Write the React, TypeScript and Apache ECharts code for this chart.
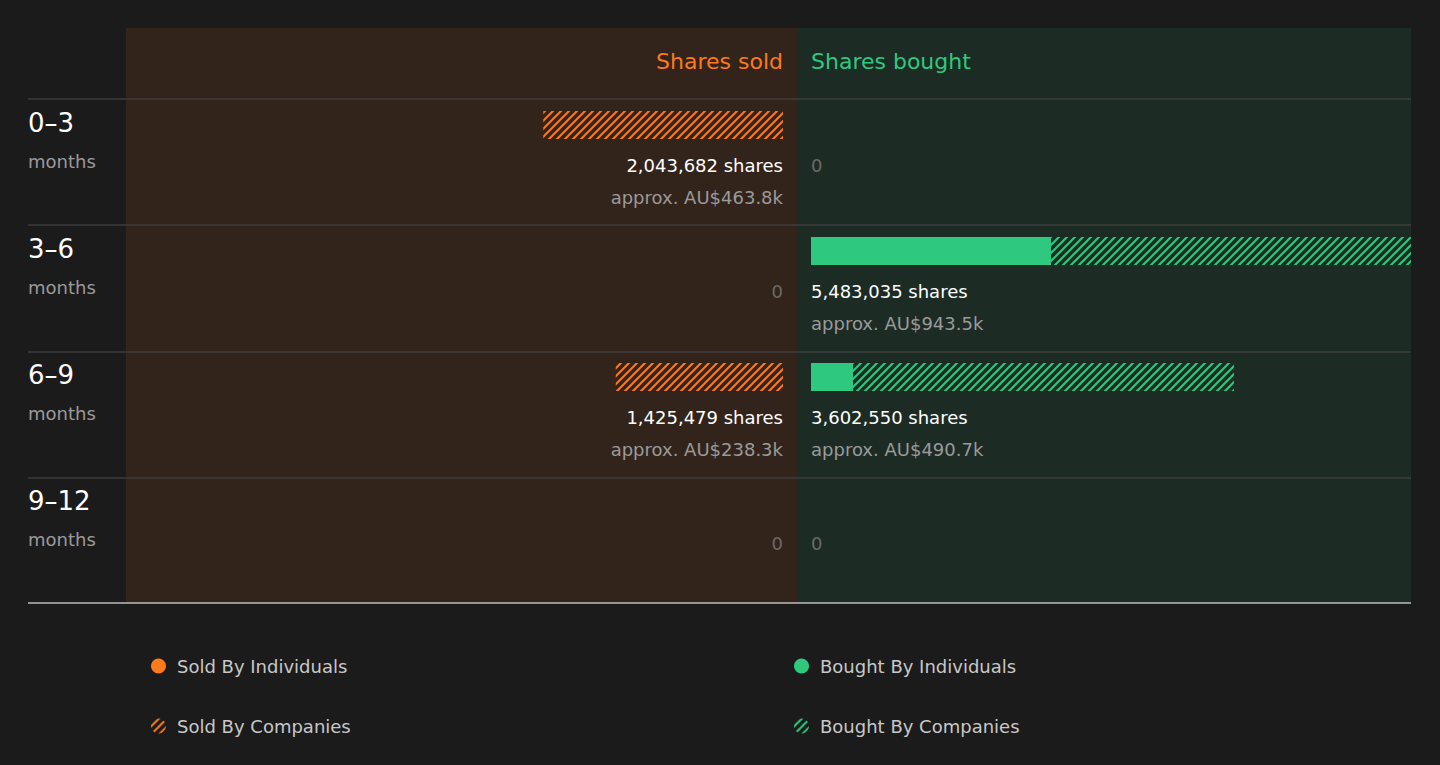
import { useEffect, useRef } from 'react'
import * as echarts from 'echarts'

const periods = ['0–3', '3–6', '6–9', '9–12']
const soldIndividuals = [0, 0, 0, 0]
const soldCompanies = [2043682, 0, 1425479, 0]
const boughtIndividuals = [0, 2044000, 358000, 0]
const boughtCompanies = [0, 3439035, 3244550, 0]
const soldShares = ['2,043,682 shares', '0', '1,425,479 shares', '0']
const soldValue = ['approx. AU$463.8k', '', 'approx. AU$238.3k', '']
const boughtShares = ['0', '5,483,035 shares', '3,602,550 shares', '0']
const boughtValue = ['', 'approx. AU$943.5k', 'approx. AU$490.7k', '']

const ORANGE = '#fb7a1c'
const GREEN = '#2ec97e'
const FONT = '"DejaVu Sans", sans-serif'

function hatch(color: string) {
  const c = document.createElement('canvas')
  c.width = 8
  c.height = 8
  const ctx = c.getContext('2d')!
  ctx.strokeStyle = color
  ctx.lineWidth = 2
  ctx.beginPath()
  ctx.moveTo(-1, 9); ctx.lineTo(9, -1)
  ctx.moveTo(-1, 1); ctx.lineTo(1, -1)
  ctx.moveTo(7, 9); ctx.lineTo(9, 7)
  ctx.stroke()
  return { image: c.toDataURL(), repeat: 'repeat' } as any
}

function textSeries(grid: number, shares: string[], values: string[], align: 'left' | 'right') {
  return {
    type: 'custom',
    xAxisIndex: grid,
    yAxisIndex: grid,
    silent: true,
    data: periods.map((_, i) => [0, i]),
    renderItem: (params: any, api: any) => {
      const i = params.dataIndex
      const [x, y] = api.coord([0, i])
      const zero = shares[i] === '0'
      return {
        type: 'group',
        children: [
          { type: 'text', x, y: y + 40, style: { text: shares[i], fill: zero ? '#6a6a6a' : '#ffffff', font: `18px ${FONT}`, align, verticalAlign: 'middle' } },
          { type: 'text', x, y: y + 72, style: { text: values[i], fill: '#9a9a9a', font: `18px ${FONT}`, align, verticalAlign: 'middle' } },
        ],
      }
    },
  }
}

export default function App() {
  const ref = useRef<HTMLDivElement>(null)

  useEffect(() => {
    if (!ref.current) return
    const chart = echarts.init(ref.current, null, { renderer: 'svg' })
    const orangeHatch = hatch(ORANGE)
    const greenHatch = hatch(GREEN)
    const rowLines = [99, 225, 352, 478].map((y) => ({
      type: 'line', z: -5, shape: { x1: 28, y1: y, x2: 1411, y2: y }, style: { stroke: '#3d3d3d', lineWidth: 1.5 },
    }))
    const catAxis = (show: boolean, idx: number) => ({
      type: 'category', gridIndex: idx, data: periods, inverse: true,
      axisLine: { show: false }, axisTick: { show: false }, splitLine: { show: false },
      axisLabel: show ? {
        show: true, align: 'left', margin: 98, padding: [34, 0, 0, 0],
        formatter: (v: string) => `{a|${v}}\n{b|months}`,
        rich: {
          a: { fontSize: 26, color: '#ffffff', lineHeight: 38, fontFamily: FONT },
          b: { fontSize: 18, color: '#9a9a9a', lineHeight: 38, fontFamily: FONT },
        },
      } : { show: false },
    })
    chart.setOption({
      animation: false,
      backgroundColor: '#1b1b1b',
      textStyle: { fontFamily: FONT },
      grid: [
        { left: 126, width: 657, top: 62, height: 504 },
        { left: 811, width: 600, top: 62, height: 504 },
      ],
      xAxis: [
        { type: 'value', gridIndex: 0, inverse: true, min: 0, max: 5600000, show: false },
        { type: 'value', gridIndex: 1, min: 0, max: 5110000, show: false },
      ],
      yAxis: [catAxis(true, 0), catAxis(false, 1)],
      legend: [
        {
          left: 146, top: 652, orient: 'vertical', itemGap: 42, icon: 'circle', itemWidth: 15, itemHeight: 15,
          textStyle: { color: '#c8c8c8', fontSize: 18, padding: [0, 0, 0, 6] },
          data: ['Sold By Individuals', 'Sold By Companies'],
        },
        {
          left: 789, top: 652, orient: 'vertical', itemGap: 42, icon: 'circle', itemWidth: 15, itemHeight: 15,
          textStyle: { color: '#c8c8c8', fontSize: 18, padding: [0, 0, 0, 6] },
          data: ['Bought By Individuals', 'Bought By Companies'],
        },
      ],
      graphic: [
        { type: 'rect', z: -10, shape: { x: 126, y: 28, width: 671, height: 575 }, style: { fill: '#33241b' } },
        { type: 'rect', z: -10, shape: { x: 797, y: 28, width: 614, height: 575 }, style: { fill: '#1c2c25' } },
        ...rowLines,
        { type: 'line', z: -5, shape: { x1: 28, y1: 603, x2: 1411, y2: 603 }, style: { stroke: '#bdbdbd', lineWidth: 1.5 } },
        { type: 'text', x: 783, y: 61, style: { text: 'Shares sold', fill: ORANGE, font: `22px ${FONT}`, align: 'right', verticalAlign: 'middle' } },
        { type: 'text', x: 811, y: 61, style: { text: 'Shares bought', fill: GREEN, font: `22px ${FONT}`, align: 'left', verticalAlign: 'middle' } },
      ],
      series: [
        { name: 'Sold By Individuals', type: 'bar', stack: 's', xAxisIndex: 0, yAxisIndex: 0, barWidth: 28, data: soldIndividuals, itemStyle: { color: ORANGE } },
        { name: 'Sold By Companies', type: 'bar', stack: 's', xAxisIndex: 0, yAxisIndex: 0, barWidth: 28, data: soldCompanies, itemStyle: { color: orangeHatch } },
        { name: 'Bought By Individuals', type: 'bar', stack: 'b', xAxisIndex: 1, yAxisIndex: 1, barWidth: 28, data: boughtIndividuals, itemStyle: { color: GREEN } },
        { name: 'Bought By Companies', type: 'bar', stack: 'b', xAxisIndex: 1, yAxisIndex: 1, barWidth: 28, clip: true, data: boughtCompanies, itemStyle: { color: greenHatch } },
        textSeries(0, soldShares, soldValue, 'right'),
        textSeries(1, boughtShares, boughtValue, 'left'),
      ],
    })
    return () => chart.dispose()
  }, [])

  return <div ref={ref} style={{ position: 'fixed', left: 0, top: 0, width: 1440, height: 765 }} />
}
